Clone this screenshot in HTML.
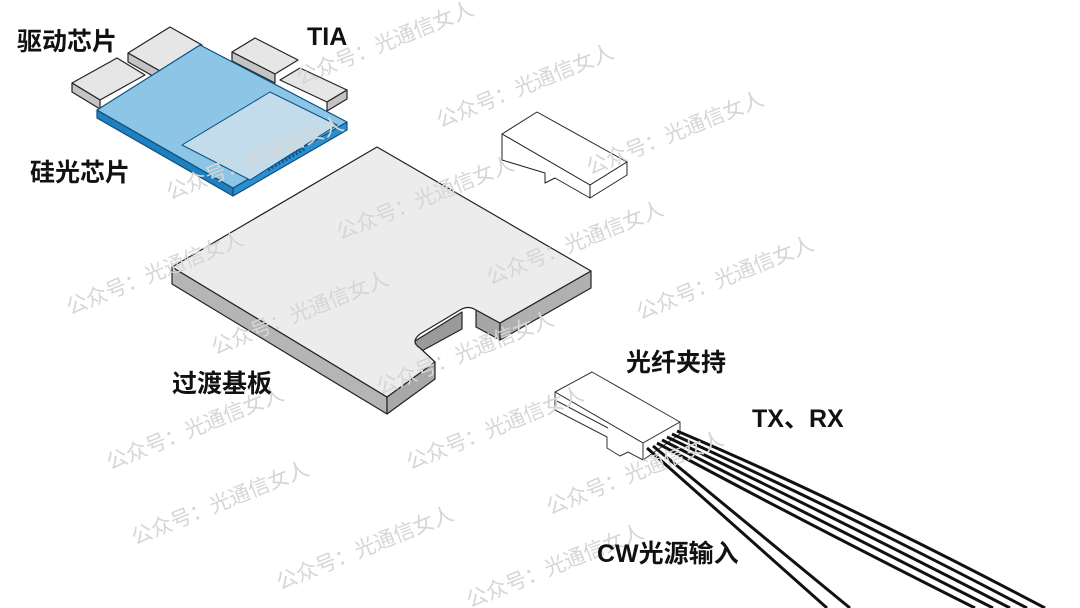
<!DOCTYPE html>
<html><head><meta charset="utf-8"><style>
html,body{margin:0;padding:0;background:#fff;}
svg{display:block;}
.lbl{font-family:"Liberation Sans","Noto Sans CJK SC",sans-serif;font-weight:bold;font-size:25px;fill:#111;}
.wm{font-family:"Liberation Sans","Noto Sans CJK SC",sans-serif;font-size:21px;fill:#d6d6d6;}
</style></head><body>
<svg width="1080" height="608" viewBox="0 0 1080 608" xmlns="http://www.w3.org/2000/svg">
<rect width="1080" height="608" fill="#fff"/>
<g stroke="#222" stroke-width="1.2" stroke-linejoin="round">
<g fill="#e6e6e6">
<polygon points="72,83 117,58 145,75 100,100"/>
<polygon points="72,83 100,100 100,109 72,92" fill="#c4c4c4"/>
<polygon points="128,53 170,27 202,45 160,71"/>
<polygon points="128,53 160,71 160,80 128,62" fill="#c4c4c4"/>
<polygon points="232,52 255,38 298,60 275,74"/>
<polygon points="232,52 275,74 275,83 232,61" fill="#c4c4c4"/>
<polygon points="280,80 300,68 347,90 327,102"/>
<polygon points="327,102 347,90 347,99 327,111" fill="#c4c4c4"/>
</g>
<polygon points="97,110 233,188 233,196 97,118" fill="#1f7fbf" stroke="#0d4f80"/>
<polygon points="233,188 347,122 347,130 233,196" fill="#2a8fd0" stroke="#0d4f80"/>
<polygon points="97,110 200,45 347,122 233,188" fill="#8cc5e6" stroke="#0d4f80"/>
<polygon points="182,145 270,92 337,125 250,180" fill="#c3dcec" stroke="#0d4f80" stroke-width="1"/>
<line x1="268" y1="170" x2="305" y2="149" stroke="#0d4f80" stroke-width="2.5" stroke-dasharray="2,2"/>
<g fill="#fff" stroke-width="1">
<polygon points="502,134 537,112 627,162 590,185"/>
<polygon points="502,134 590,185 590,198 555,178 545,183 545,173 502,160"/>
<polygon points="590,185 627,162 627,175 590,198"/>
</g>
<polygon points="172,267 387,397 387,414 172,284" fill="#b5b5b5"/>
<polygon points="387,397 435,362 435,379 387,414" fill="#a8a8a8"/>
<polygon points="415,341 462,312 462,329 418,353" fill="#9a9a9a"/>
<polygon points="476,310 500,323 500,340 476,327" fill="#a6a6a6"/>
<polygon points="500,323 591,271 591,288 500,340" fill="#b0b0b0"/>
<path d="M172,267 L377,147 L591,271 L500,323 L476,310 Q468,305 460,310 L420,334 Q410,342 420,348 L435,362 L387,397 Z" fill="#ececec"/>
</g>
<g stroke="#333" stroke-width="1" fill="#fff" stroke-linejoin="round">
<polygon points="555,392 592,372 680,422 643,443"/>
<polygon points="555,392 643,443 643,460 628,452 620,456 607,448 607,437 555,410"/>
<polygon points="643,443 680,422 680,434 643,460"/>
<line x1="555" y1="400" x2="608" y2="428"/>
</g>
<g stroke="#111" stroke-width="3" fill="none" stroke-linecap="butt">
<line x1="647" y1="448" x2="827" y2="608"/>
<line x1="653" y1="446" x2="850" y2="608"/>
<path d="M657,443 Q800,520 975,608"/>
<path d="M662,440 Q810,515 993,608"/>
<path d="M667,437 Q820,510 1010,608"/>
<path d="M672,434 Q830,505 1027,608"/>
<path d="M677,431 Q840,500 1045,608"/>
</g>
<g class="wm">
<text transform="translate(300,85) rotate(-22)">公众号：光通信女人</text>
<text transform="translate(440,128) rotate(-22)">公众号：光通信女人</text>
<text transform="translate(590,175) rotate(-22)">公众号：光通信女人</text>
<text transform="translate(170,200) rotate(-22)">公众号：光通信女人</text>
<text transform="translate(340,240) rotate(-22)">公众号：光通信女人</text>
<text transform="translate(490,285) rotate(-22)">公众号：光通信女人</text>
<text transform="translate(640,320) rotate(-22)">公众号：光通信女人</text>
<text transform="translate(70,315) rotate(-22)">公众号：光通信女人</text>
<text transform="translate(215,355) rotate(-22)">公众号：光通信女人</text>
<text transform="translate(380,395) rotate(-22)">公众号：光通信女人</text>
<text transform="translate(110,470) rotate(-22)">公众号：光通信女人</text>
<text transform="translate(410,470) rotate(-22)">公众号：光通信女人</text>
<text transform="translate(550,515) rotate(-22)">公众号：光通信女人</text>
<text transform="translate(135,545) rotate(-22)">公众号：光通信女人</text>
<text transform="translate(280,590) rotate(-22)">公众号：光通信女人</text>
<text transform="translate(470,608) rotate(-22)">公众号：光通信女人</text>
</g>
<text class="lbl" x="17" y="50">驱动芯片</text>
<text class="lbl" x="307" y="45">TIA</text>
<text class="lbl" x="30" y="181">硅光芯片</text>
<text class="lbl" x="172" y="392">过渡基板</text>
<text class="lbl" x="626" y="371">光纤夹持</text>
<text class="lbl" x="752" y="427">TX、RX</text>
<text class="lbl" x="597" y="562">CW光源输入</text>
</svg>
</body></html>
